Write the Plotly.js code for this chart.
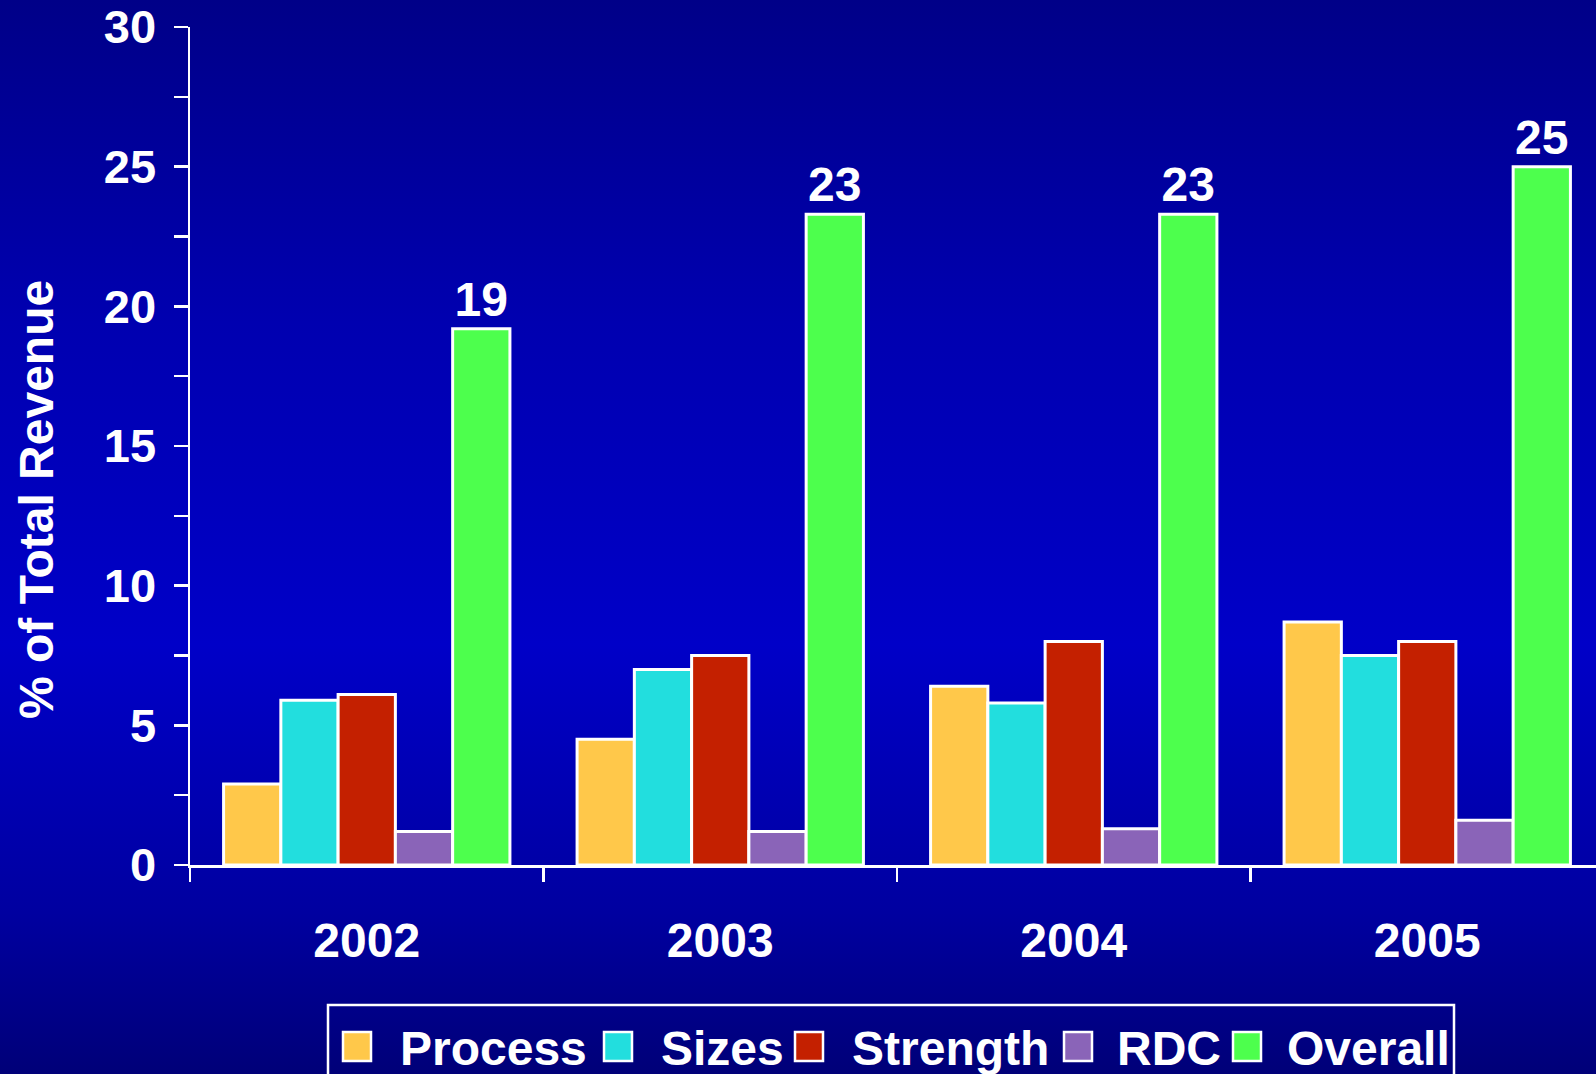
<!DOCTYPE html>
<html>
<head>
<meta charset="utf-8">
<script src="https://cdn.plot.ly/plotly-3.0.1.min.js"></script>
<style>
html,body{margin:0;padding:0;width:1596px;height:1074px;overflow:hidden;
background:linear-gradient(to bottom,#000088 0%,#0000b0 30%,#0000c8 60%,#0000a0 85%,#000078 100%);}
#chart{width:1604px;height:1074px;}
</style>
</head>
<body>
<div id="chart"></div>
<script>
const years = ['2002','2003','2004','2005'];
const seriesNames = ['Process','Sizes','Strength','RDC','Overall'];
const processVals = [2.9, 4.5, 6.4, 8.7];
const sizesVals = [5.9, 7.0, 5.8, 7.5];
const strengthVals = [6.1, 7.5, 8.0, 8.0];
const rdcVals = [1.2, 1.2, 1.3, 1.6];
const overallVals = [19.2, 23.3, 23.3, 25.0];
const overallLabels = ['19','23','23','25'];
const yTicks = [0,5,10,15,20,25,30];
const yTitle = '% of Total Revenue';

const colors = ['#ffc84a','#22dede','#c42000','#8a64b8','#4dff4d'];
const allVals = [processVals, sizesVals, strengthVals, rdcVals, overallVals];
const font = {family:'"Liberation Sans", Arial, sans-serif', color:'#ffffff', weight:'bold'};
const FS = 48;

const W = 1604, H = 1074;
const M = {l:190, r:0, t:27, b:209};
const PW = W - M.l - M.r, PH = H - M.t - M.b;
// pixel -> paper helpers for decorations (legend, y title)
const px = X => (X - M.l) / PW;
const py = Y => (H - M.b - Y) / PH;

const traces = seriesNames.map((name,i)=>{
  const t = {
    type:'bar', name:name, x:years, y:allVals[i],
    marker:{color:colors[i], line:{color:'#ffffff', width:3}},
    hoverinfo:'skip', showlegend:false
  };
  if(name==='Overall'){
    t.text = overallLabels;
    t.texttemplate = '%{text}';
    t.textposition = 'outside';
    t.cliponaxis = false;
    t.outsidetextfont = Object.assign({}, font, {size:FS});
  }
  return t;
});

// custom legend (layout decoration)
const legSymX = [343, 604, 795, 1064, 1233];
const legTextX = [398, 659, 850, 1115, 1285];
const shapes = [{type:'rect', xref:'paper', yref:'paper', x0:px(328), x1:px(1454), y0:py(1005), y1:py(1095),
  line:{color:'#ffffff', width:2.5}, fillcolor:'rgba(0,0,0,0)'}];
const annotations = [];
seriesNames.forEach((name,i)=>{
  shapes.push({type:'rect', xref:'paper', yref:'paper', x0:px(legSymX[i]), x1:px(legSymX[i]+28),
    y0:py(1032), y1:py(1061), line:{color:'#ffffff', width:2.5}, fillcolor:colors[i]});
  annotations.push({xref:'paper', yref:'paper', x:px(legTextX[i]), y:py(1048), xanchor:'left', yanchor:'middle',
    text:name, showarrow:false, font:Object.assign({}, font, {size:FS})});
});
// y-axis title placed like the reference (below the axis centre)
annotations.push({xref:'paper', yref:'paper', x:px(36), y:py(500), xanchor:'center', yanchor:'middle',
  text:yTitle, textangle:-90, showarrow:false, font:Object.assign({}, font, {size:FS})});

const layout = {
  width:W, height:H,
  paper_bgcolor:'rgba(0,0,0,0)', plot_bgcolor:'rgba(0,0,0,0)',
  margin:M,
  barmode:'group', bargap:0.19, bargroupgap:0,
  font:Object.assign({}, font, {size:FS}),
  showlegend:false,
  shapes:shapes, annotations:annotations,
  xaxis:{type:'category', showline:true, linecolor:'#ffffff', linewidth:2.5,
    ticks:'outside', ticklen:14, tickwidth:2.5, tickcolor:'#ffffff',
    tickson:'boundaries', ticklabelstandoff:32,
    tickfont:Object.assign({}, font, {size:FS}), showgrid:false, zeroline:false},
  yaxis:{range:[0,30], showline:true, linecolor:'#ffffff', linewidth:2.5,
    tickvals:yTicks, ticks:'outside', ticklen:14, tickwidth:2.5, tickcolor:'#ffffff',
    ticklabelstandoff:8, ticklabeloverflow:'allow',
    minor:{dtick:2.5, ticks:'outside', ticklen:14, tickwidth:2.5, tickcolor:'#ffffff', showgrid:false},
    tickfont:Object.assign({}, font, {size:47}), showgrid:false, zeroline:false}
};

Plotly.newPlot('chart', traces, layout, {displayModeBar:false, staticPlot:true});
</script>
</body>
</html>
